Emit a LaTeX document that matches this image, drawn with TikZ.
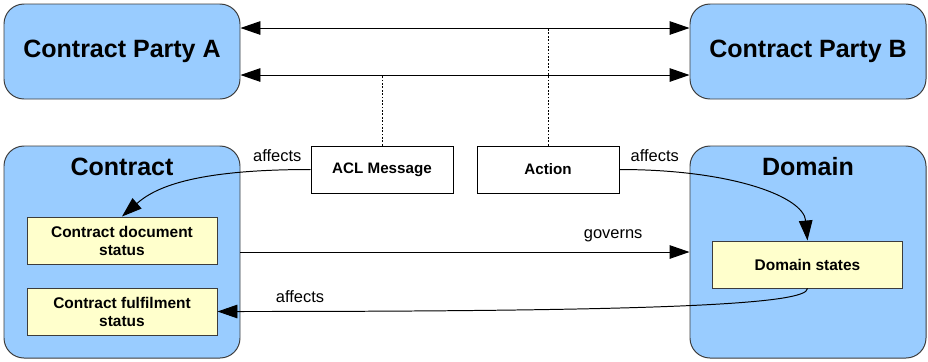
\documentclass[tikz,border=0pt]{standalone}
\usepackage{fontspec}
\setmainfont{Liberation Sans}
\usetikzlibrary{arrows.meta}
\definecolor{partyblue}{HTML}{99CCFF}
\definecolor{stateyellow}{HTML}{FFFFCC}
\definecolor{edgegray}{HTML}{3C3C3C}

\begin{document}
\begin{tikzpicture}[>={Triangle[length=5mm,width=3.4mm]},line width=0.7pt,
  party/.style={draw=edgegray,fill=partyblue,rounded corners=5mm,minimum width=5.9cm,minimum height=2.375cm,font=\fontsize{17.8}{21}\selectfont\bfseries},
  holder/.style={draw=edgegray,fill=partyblue,rounded corners=5mm,minimum width=5.9cm,minimum height=5.3cm},
  boxtitle/.style={anchor=base,font=\fontsize{17.8}{21}\selectfont\bfseries},
  msgbox/.style={draw,fill=white,minimum width=3.55cm,minimum height=1.175cm,font=\fontsize{10.8}{13}\selectfont\bfseries},
  statebox/.style={draw=edgegray,fill=stateyellow,minimum width=4.75cm,minimum height=1.175cm,align=center,font=\fontsize{11}{12.8}\selectfont\bfseries},
  lbl/.style={font=\fontsize{11.7}{14}\selectfont},
  dots/.style={line width=0.6pt,dash pattern=on 1.2pt off 1.2pt}]
  \useasboundingbox (0,0) rectangle (23.2,-9.025);

  \node[party] (pa) at (3.05,-1.2875) {Contract Party A};
  \node[party] (pb) at (20.2,-1.2875) {Contract Party B};
  \node[holder] (contract) at (3.05,-6.3) {};
  \node[holder] (domain) at (20.2,-6.3) {};
  \node[boxtitle] (ctitle) at ([yshift=-7.4mm]contract.north) {Contract};
  \node[boxtitle] (dtitle) at ([yshift=-7.4mm]domain.north) {Domain};
  \node[msgbox] (acl) at (9.55,-4.2375) {ACL Message};
  \node[msgbox] (action) at (13.7,-4.2375) {Action};
  \node[statebox] (cds) at (3.05,-6.0125) {Contract document\\status};
  \node[statebox] (cfs) at (3.05,-7.7875) {Contract fulfilment\\status};
  \node[statebox] (ds) at (20.1875,-6.6125) {Domain states};

  % party to party
  \coordinate (upper) at ([yshift=5.875mm]pa.east);
  \coordinate (lower) at ([yshift=-5.875mm]pa.east);
  \draw[<->] (upper) -- (upper -| pb.west);
  \draw[<->] (lower) -- (lower -| pb.west);
  \draw[dots] (acl.north) -- (acl.north |- lower);
  \draw[dots] (action.north) -- (action.north |- upper);

  \draw[->] (acl.west) node[lbl,anchor=south east,xshift=-1mm,yshift=0.7mm] (aff1) {affects}
    .. controls +(-3,0) and +(0.8,0.7) .. (cds.north);
  \draw[->] (action.east) node[lbl,anchor=south west,xshift=1.5mm,yshift=0.7mm] (aff2) {affects}
    .. controls +(2.8,0) and +(-0.1,1.1) .. (ds.north);
  \draw[->] (contract.east) -- node[lbl,pos=0.83,above,yshift=1.3mm] (gov) {governs} (domain.west);
  \draw[->] (ds.south) .. controls +(0,-0.4) and +(11,0) .. (cfs.east);
  \node[lbl,anchor=base] (aff3) at (7.5,-7.55) {affects};
\end{tikzpicture}
\end{document}
